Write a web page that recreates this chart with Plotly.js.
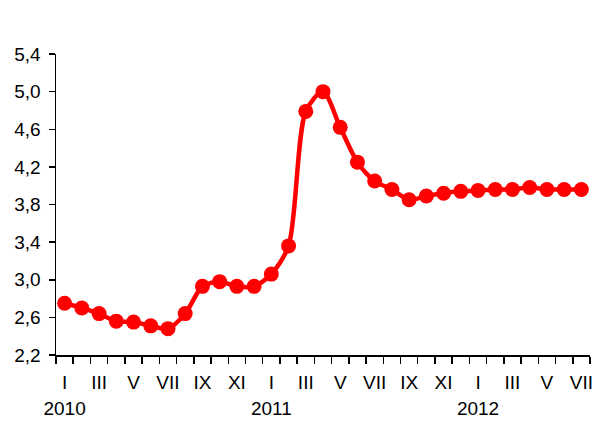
<!DOCTYPE html>
<html><head><meta charset="utf-8">
<script src="https://cdn.plot.ly/plotly-3.0.1.min.js"></script>
<style>html,body{margin:0;padding:0;background:#fff}#chart{width:595px;height:428px}</style>
</head><body><div id="chart"></div>
<script>
var months = ["I","II","III","IV","V","VI","VII","VIII","IX","X","XI","XII",
              "I","II","III","IV","V","VI","VII","VIII","IX","X","XI","XII",
              "I","II","III","IV","V","VI","VII"];
var years = ["2010","2011","2012"];
var yearIndex = [0,12,24];
var values = [2.75,2.70,2.64,2.56,2.55,2.51,2.48,2.64,2.93,2.98,2.93,2.93,
              3.06,3.36,4.79,5.00,4.62,4.25,4.05,3.96,3.85,3.89,3.92,3.94,
              3.95,3.96,3.96,3.98,3.96,3.96,3.96];
var yTicks = [2.2,2.6,3.0,3.4,3.8,4.2,4.6,5.0,5.4];

var idx = values.map(function(_,i){return i;});
var labelText = months.map(function(m,i){return i%2===0 ? m : "";});
var bounds = [];
for (var i=0;i<=values.length;i++) bounds.push(i-0.5);

function mkFont(){ return {family: "Arial, Liberation Sans, sans-serif", size: 19, color: "#000"}; }

var trace = {
  x: idx, y: values, type: "scatter", mode: "lines+markers",
  line: {color: "#ff0000", width: 4.5, shape: "spline", smoothing: 0.8},
  marker: {color: "#ff0000", size: 15},
  hoverinfo: "skip", cliponaxis: false
};
var layout = {
  width: 595, height: 428,
  margin: {l: 56, r: 5, t: 54, b: 73},
  paper_bgcolor: "#fff", plot_bgcolor: "#fff",
  separators: ", ",
  showlegend: false,
  font: mkFont(),
  xaxis: {
    range: [-0.5, values.length-0.5], tickmode: "array", tickvals: idx, ticktext: labelText,
    ticks: "", showgrid: false, zeroline: false, showline: true, linecolor: "#000", linewidth: 1.5,
    ticklabelstandoff: 10, tickfont: mkFont(),
    minor: {tickmode: "array", tickvals: bounds, ticks: "outside", ticklen: 7, tickwidth: 1.5, tickcolor: "#000", showgrid: false}
  },
  xaxis2: {
    overlaying: "x", side: "bottom", matches: "x", range: [-0.5, values.length-0.5],
    tickmode: "array", tickvals: yearIndex, ticktext: years, ticks: "",
    showgrid: false, zeroline: false, showline: false, ticklabelstandoff: 40, tickfont: mkFont()
  },
  yaxis: {
    range: [2.2, 5.4], tickmode: "array", tickvals: yTicks, tickformat: ".1f",
    ticks: "outside", ticklen: 6, tickwidth: 1.5, tickcolor: "#000",
    showgrid: false, zeroline: false, showline: true, linecolor: "#000", linewidth: 1.5,
    ticklabelstandoff: 4, tickfont: mkFont()
  }
};
var dummy = {x: [0], y: [null], xaxis: "x2", type: "scatter", mode: "markers", hoverinfo: "skip"};
Plotly.newPlot("chart", [trace, dummy], layout, {staticPlot: true});
</script></body></html>
